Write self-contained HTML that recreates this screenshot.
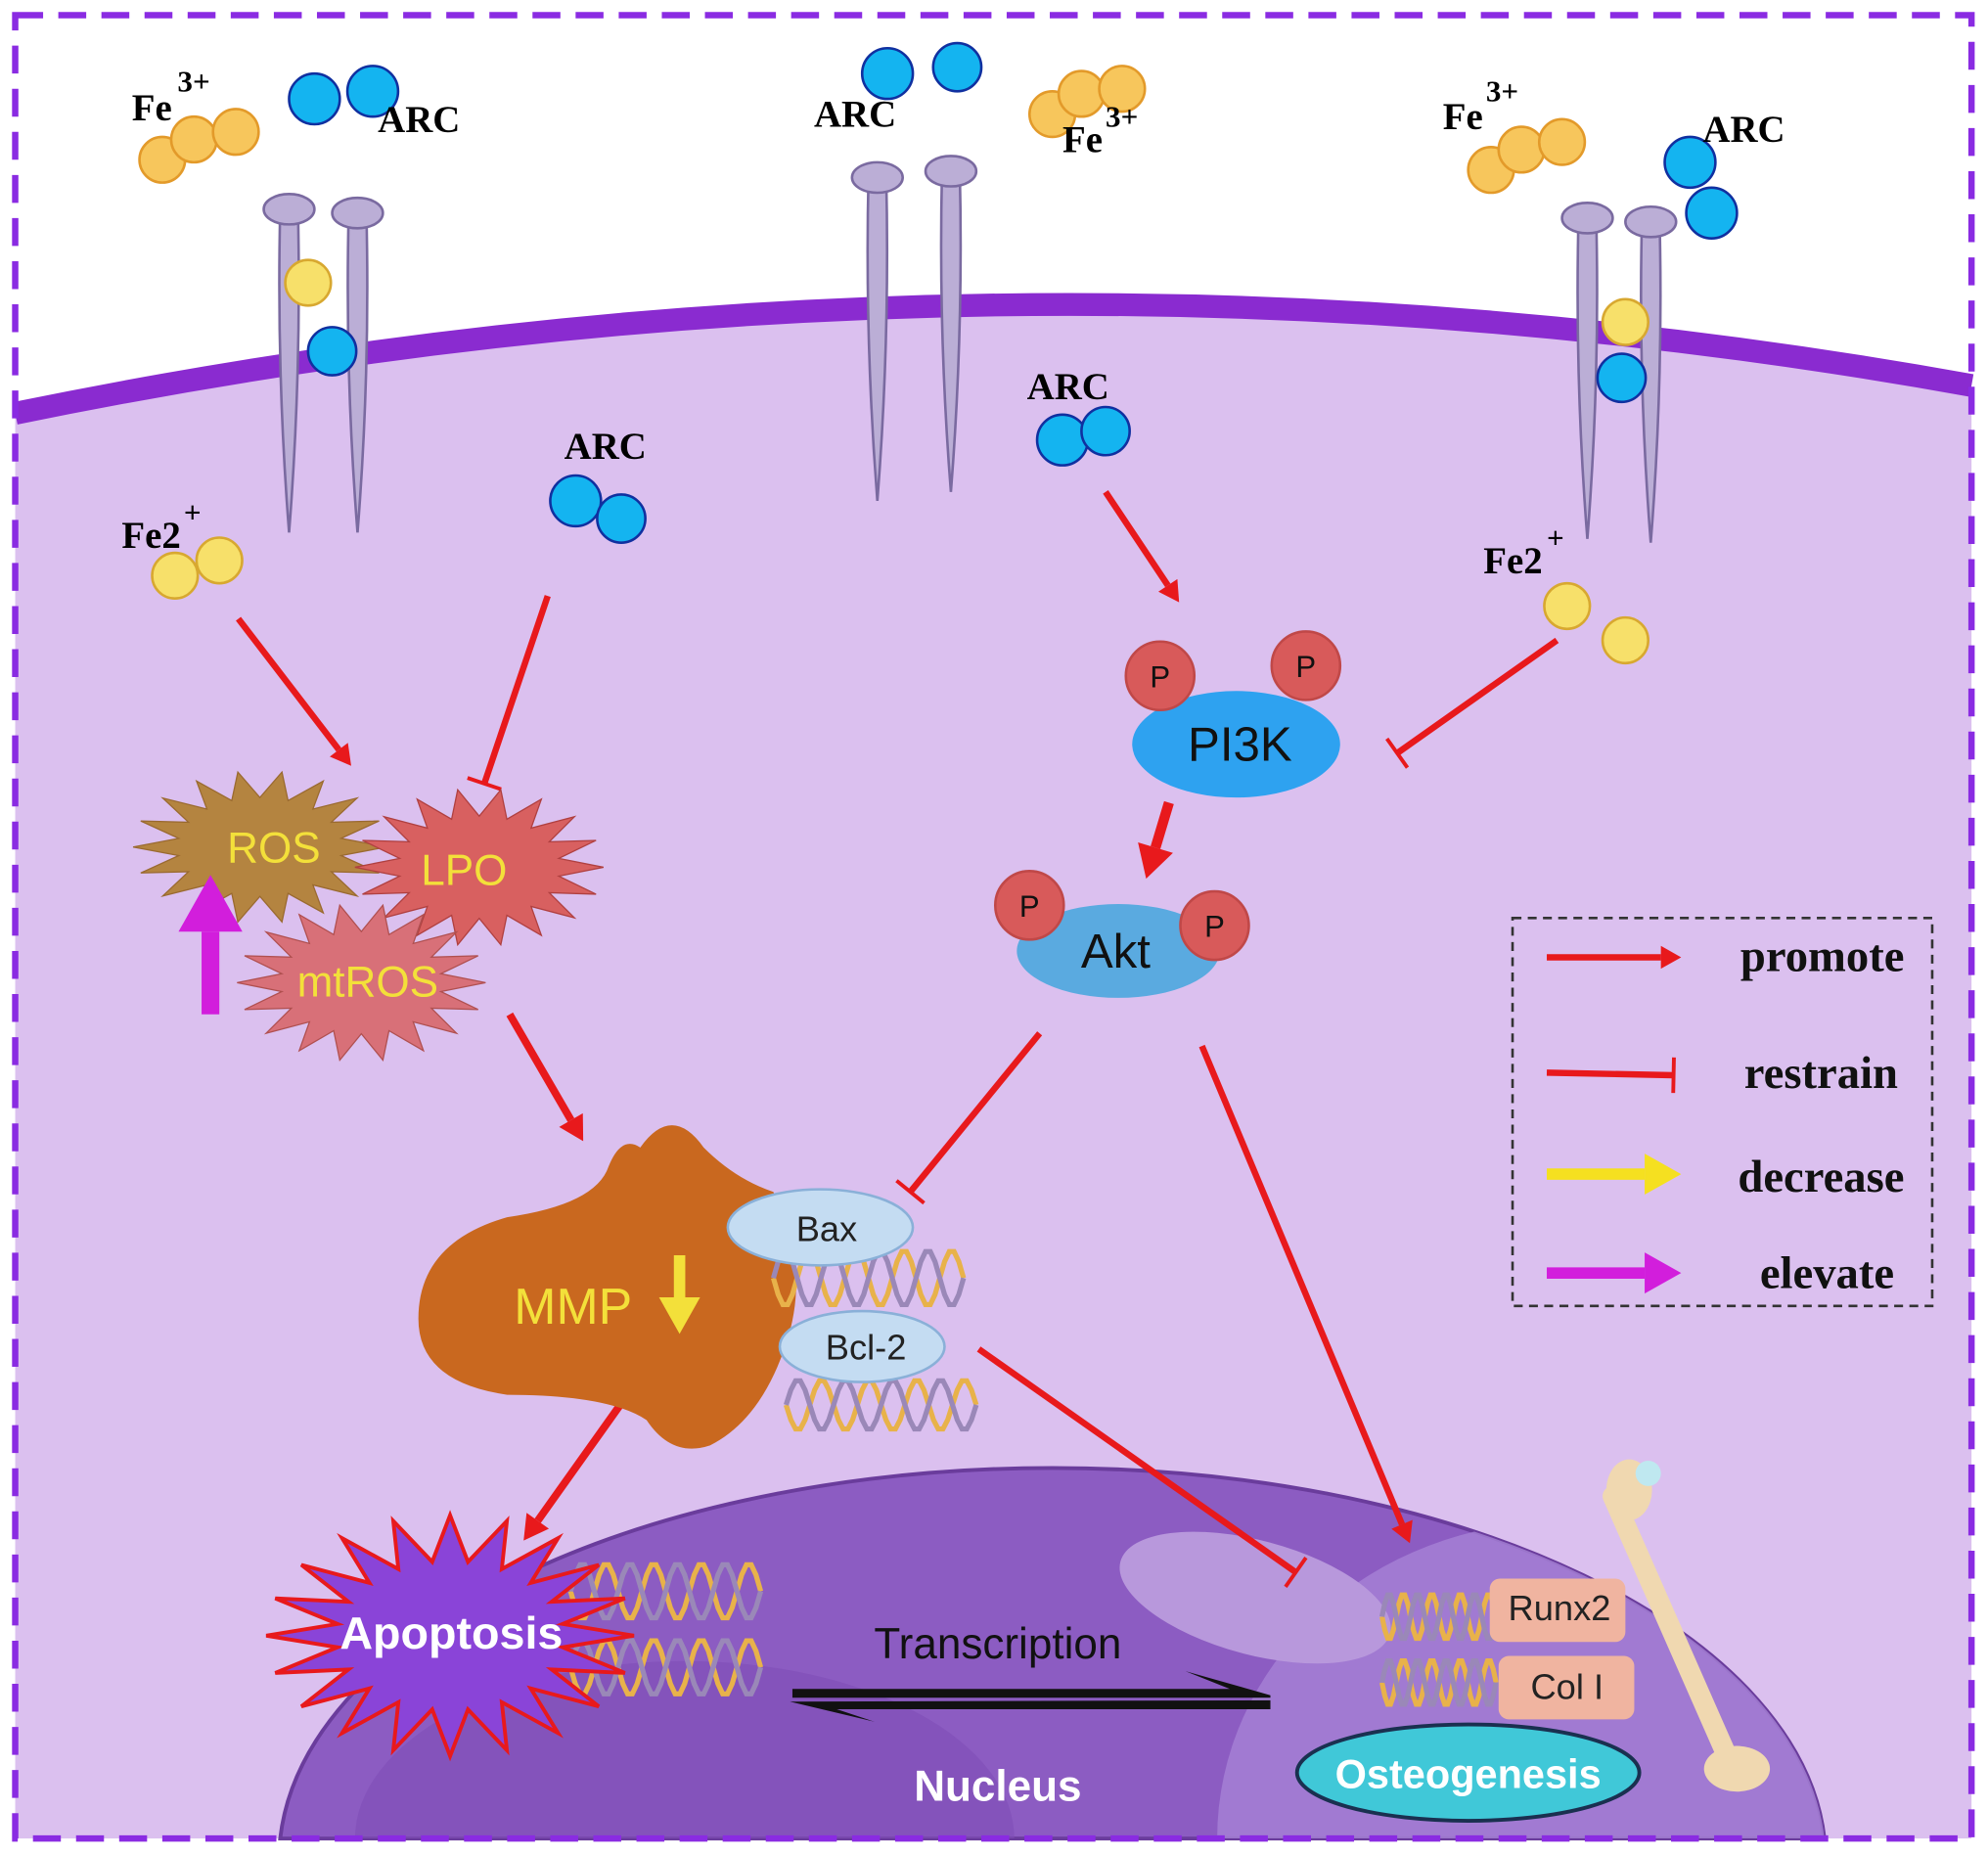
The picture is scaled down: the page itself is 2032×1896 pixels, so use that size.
<!DOCTYPE html>
<html><head><meta charset="utf-8"><style>
html,body{margin:0;padding:0;background:#fff;overflow:hidden;width:2032px;height:1896px}
svg{display:block;overflow:hidden}
text{font-family:"Liberation Sans",sans-serif}
.ser{font-family:"Liberation Serif",serif;font-weight:bold}
</style></head><body>
<svg id="s" width="2032" height="1896" viewBox="0 0 1568 1463" preserveAspectRatio="none" xmlns="http://www.w3.org/2000/svg">
<defs>
<clipPath id="nu"><path d="M221,1450 A610,310 0 0 1 1439,1450 Z"/></clipPath>
</defs>
<rect width="1568" height="1463" fill="#fff"/>
<path d="M12,328 Q790,168 1555,306 L1555,1450 L12,1450 Z" fill="#dbc0ef"/>
<path d="M12,326 Q790,166 1555,304" fill="none" stroke="#8a2bd0" stroke-width="18"/>
<path d="M221,1450 A610,310 0 0 1 1439,1450 Z" fill="#8c5cc2" stroke="#6a3c9c" stroke-width="3"/>
<g clip-path="url(#nu)">
<path d="M960,1450 A270,250 0 0 1 1500,1450 Z" fill="#a682d6" opacity="0.8"/>
<ellipse cx="990" cy="1260" rx="110" ry="45" fill="#b898dc" transform="rotate(15 990 1260)"/>
<path d="M280,1450 A260,140 0 0 1 800,1450 Z" fill="#7e4cb6" opacity="0.6"/>
</g>
<rect x="12" y="12" width="1543" height="1438" fill="none" stroke="#8a2be2" stroke-width="5" stroke-dasharray="22 12"/>
<g id="g"></g>
</svg>
<script>
const g=document.getElementById('g');let h='';
function stalk(x,y1,y2){h+=`<path d="M${x-7},${y1} Q${x-10},${(y1+y2)/2} ${x},${y2} Q${x+10},${(y1+y2)/2} ${x+7},${y1} Z" fill="#bbaed6" stroke="#7a6aa0" stroke-width="2"/><ellipse cx="${x}" cy="${y1}" rx="20" ry="12" fill="#bbaed6" stroke="#7a6aa0" stroke-width="2"/>`;}
stalk(228,165,420);stalk(282,168,420);stalk(692,140,395);stalk(750,135,388);stalk(1252,172,425);stalk(1302,175,428);
function c(x,y,r,f,s){h+=`<circle cx="${x}" cy="${y}" r="${r}" fill="${f}" stroke="${s}" stroke-width="2"/>`;}
const Y='#f7c65c',YS='#e39a2a',B='#14b4f0',BS='#1030a0',L='#f7e06a',LS='#d8a830';
[[128,126],[153,110],[186,104]].forEach(p=>c(p[0],p[1],18,Y,YS));
c(248,78,20,B,BS);c(294,72,20,B,BS);
c(700,58,20,B,BS);c(755,53,19,B,BS);
[[830,90],[853,74],[885,70]].forEach(p=>c(p[0],p[1],18,Y,YS));
[[1176,134],[1200,118],[1232,112]].forEach(p=>c(p[0],p[1],18,Y,YS));
c(1333,128,20,B,BS);c(1350,168,20,B,BS);
c(243,223,18,L,LS);c(262,277,19,B,BS);c(1282,254,18,L,LS);c(1279,298,19,B,BS);
c(138,454,18,L,LS);c(173,442,18,L,LS);
c(454,395,20,B,BS);c(490,409,19,B,BS);
c(838,347,20,B,BS);c(872,340,19,B,BS);
c(1236,478,18,L,LS);c(1282,505,18,L,LS);
function t(x,y,s,txt,cls,fill,anchor){h+=`<text x="${x}" y="${y}" font-size="${s}" class="${cls||''}" fill="${fill||'#000'}" text-anchor="${anchor||'start'}">${txt}</text>`;}
t(104,95,30,'Fe','ser');t(140,72,24,'3+','ser');t(298,104,30,'ARC','ser');
t(642,100,30,'ARC','ser');t(838,120,30,'Fe','ser');t(872,100,24,'3+','ser');
t(1138,102,30,'Fe','ser');t(1172,80,24,'3+','ser');t(1343,112,30,'ARC','ser');
t(96,432,30,'Fe2','ser');t(145,412,24,'+','ser');
t(445,362,30,'ARC','ser');t(810,315,30,'ARC','ser');
t(1170,452,30,'Fe2','ser');t(1220,432,24,'+','ser');
function arr(x1,y1,x2,y2,w,col){col=col||'#e8191c';const a=Math.atan2(y2-y1,x2-x1),L=w*3.2,W=w*1.8;
const bx=x2-L*Math.cos(a),by=y2-L*Math.sin(a),px=-Math.sin(a),py=Math.cos(a);
h+=`<line x1="${x1}" y1="${y1}" x2="${bx}" y2="${by}" stroke="${col}" stroke-width="${w}"/><polygon points="${x2},${y2} ${bx+px*W},${by+py*W} ${bx-px*W},${by-py*W}" fill="${col}"/>`;}
function inh(x1,y1,x2,y2,w){const a=Math.atan2(y2-y1,x2-x1),px=-Math.sin(a)*14,py=Math.cos(a)*14;
h+=`<line x1="${x1}" y1="${y1}" x2="${x2}" y2="${y2}" stroke="#e8191c" stroke-width="${w}"/><line x1="${x2+px}" y1="${y2+py}" x2="${x2-px}" y2="${y2-py}" stroke="#e8191c" stroke-width="3"/>`;}
arr(188,488,277,604,5);inh(432,470,382,618,5);arr(872,388,930,475,5);inh(1228,505,1102,594,5);
arr(922,633,904,693,8);inh(820,815,718,940,5);arr(948,825,1112,1217,5);
arr(402,800,460,900,6);arr(492,1104,413,1215,6);inh(772,1064,1022,1240,5);
function star(cx,cy,rx,ry,n,ir,f,s,sw){let p=[];for(let i=0;i<2*n;i++){const a=Math.PI*i/n,r=i%2?ir:1;p.push((cx+rx*r*Math.cos(a)).toFixed(1)+','+(cy+ry*r*Math.sin(a)).toFixed(1));}
h+=`<polygon points="${p.join(' ')}" fill="${f}" stroke="${s||'none'}" stroke-width="${sw||0}"/>`;}
star(205,668,100,60,18,0.65,'#b48440','#9a6a30',1);
star(378,684,98,62,18,0.65,'#d86060','#b04040',1);
star(285,775,98,62,18,0.65,'#d87078','#b05050',1);
t(216,680,34,'ROS','','#f3e03a','middle');t(366,698,34,'LPO','','#f3e03a','middle');t(290,786,34,'mtROS','','#f3e03a','middle');
arr(166,800,166,690,14,'#d21edc');
h+=`<path d="M505,905 Q530,870 555,905 Q580,930 610,940 Q640,1000 620,1060 Q600,1120 560,1140 Q530,1150 510,1120 Q480,1100 400,1100 Q330,1090 330,1040 Q330,980 400,960 Q470,950 480,920 Q490,895 505,905 Z" fill="#c9681f"/>`;
t(452,1044,40,'MMP','','#f3e03a','middle');
arr(536,990,536,1052,9,'#f3e03a');
function dna(x,y,w,amp){let a='',b='';for(let i=0;i<=40;i++){const xx=x+w*i/40,yy=Math.sin(i/40*Math.PI*8);a+=(i?'L':'M')+xx+','+(y+amp*yy);b+=(i?'L':'M')+xx+','+(y-amp*yy);}
h+=`<path d="${a}" fill="none" stroke="#e8b24a" stroke-width="4"/><path d="${b}" fill="none" stroke="#9a88b8" stroke-width="4"/>`;}
dna(610,1008,150,22);dna(620,1108,150,20);dna(450,1255,150,22);dna(450,1315,150,22);dna(1090,1275,90,18);dna(1090,1327,90,18);
h+=`<ellipse cx="647" cy="968" rx="73" ry="30" fill="#c4dcf2" stroke="#8ab0d8" stroke-width="2"/><ellipse cx="680" cy="1062" rx="65" ry="28" fill="#c4dcf2" stroke="#8ab0d8" stroke-width="2"/>`;
t(652,979,28,'Bax','','#222','middle');t(683,1072,28,'Bcl-2','','#222','middle');
h+=`<ellipse cx="975" cy="587" rx="82" ry="42" fill="#2ea2f0"/><ellipse cx="882" cy="750" rx="80" ry="37" fill="#5aaae0"/>`;
[[915,533],[1030,525],[812,714],[958,730]].forEach(p=>{c(p[0],p[1],27,'#d85a5a','#c04848');t(p[0],p[1]+9,24,'P','','#111','middle');});
t(978,600,38,'PI3K','','#111','middle');t(880,763,38,'Akt','','#111','middle');
star(355,1290,145,95,20,0.62,'#8a44d8','#e8191c',3);
h+=`<text x="356" y="1300" font-size="36" font-weight="bold" fill="#fff" text-anchor="middle">Apoptosis</text>`;
t(787,1308,34,'Transcription','','#111','middle');
h+=`<polygon points="625,1332 970,1332 935,1318 1002,1337 1002,1339 625,1339" fill="#111"/><polygon points="1002,1341 1002,1348 660,1348 690,1358 623,1342" fill="#111"/>`;
h+=`<text x="787" y="1420" font-size="34" font-weight="bold" fill="#fff" text-anchor="middle">Nucleus</text>`;
h+=`<path d="M1272,1180 L1360,1380" stroke="#f0d8b0" stroke-width="16" stroke-linecap="round"/><ellipse cx="1285" cy="1175" rx="18" ry="24" fill="#f0d8b0"/><ellipse cx="1370" cy="1395" rx="26" ry="18" fill="#f0d8b0"/><circle cx="1300" cy="1162" r="10" fill="#bfe8f0"/>`;
h+=`<rect x="1175" y="1245" width="107" height="50" rx="8" fill="#f0b4a0"/><rect x="1182" y="1306" width="107" height="50" rx="8" fill="#f0b4a0"/>`;
t(1230,1278,28,'Runx2','','#222','middle');t(1236,1340,28,'Col I','','#222','middle');
h+=`<ellipse cx="1158" cy="1398" rx="135" ry="38" fill="#40c8d8" stroke="#1a3050" stroke-width="3"/>`;
h+=`<text x="1158" y="1410" font-size="32" font-weight="bold" fill="#fff" text-anchor="middle">Osteogenesis</text>`;
h+=`<rect x="1193" y="724" width="331" height="306" fill="none" stroke="#333" stroke-width="2" stroke-dasharray="7 5"/>`;
arr(1220,755,1326,755,5);inh(1220,846,1320,848,5);arr(1220,926,1326,926,9,'#f5e020');arr(1220,1004,1326,1004,9,'#d21edc');
t(1502,766,36,'promote','ser','#111','end');t(1497,858,36,'restrain','ser','#111','end');t(1502,940,36,'decrease','ser','#111','end');t(1494,1016,36,'elevate','ser','#111','end');
g.innerHTML=h;
</script>
</body></html>
